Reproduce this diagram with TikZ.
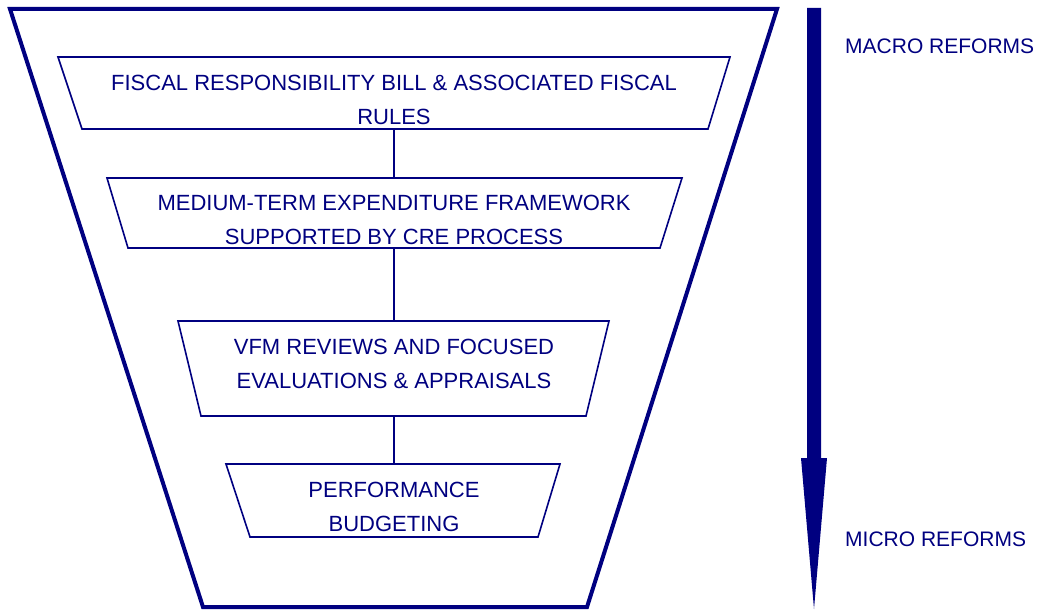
\documentclass[tikz,border=0pt]{standalone}
\usepackage{fontspec}
\setmainfont{Liberation Sans}
\definecolor{navy}{RGB}{0,0,128}
\begin{document}
\begin{tikzpicture}[x=1pt,y=-1pt,
  outer/.style={draw=navy,line width=4pt,line join=miter},
  inbox/.style={draw=navy,line width=1.6pt,fill=white},
  anchorbox/.style={inner sep=0pt,minimum width=10pt},
  lbl/.style={text=navy,font=\fontsize{22}{34}\selectfont,align=center,inner sep=0pt},
  side/.style={text=navy,font=\fontsize{21}{25}\selectfont,anchor=west,inner sep=0pt},
  conn/.style={draw=navy,line width=1.5pt}]
\useasboundingbox (0,0) rectangle (1039,610);
% outer funnel
\draw[outer] (10,9) -- (777,9) -- (587,607) -- (203,607) -- cycle;
% boxes
\draw[inbox] (58,57) -- (730,57) -- (708,129) -- (82,129) -- cycle;
\draw[inbox] (107,178) -- (682,178) -- (660,248) -- (128,248) -- cycle;
\draw[inbox] (178,321) -- (609,321) -- (586,416) -- (201,416) -- cycle;
\draw[inbox] (226,464) -- (560,464) -- (538,537) -- (250,537) -- cycle;
% anchor nodes spanning each box
\node[anchorbox,minimum height=72pt] (b1) at (394,93) {};
\node[anchorbox,minimum height=70pt] (b2) at (394,213) {};
\node[anchorbox,minimum height=95pt] (b3) at (394,368.5) {};
\node[anchorbox,minimum height=73pt] (b4) at (394,500.5) {};
% texts
\node[lbl] (t1) at (394,100) {FISCAL RESPONSIBILITY BILL \& ASSOCIATED FISCAL\\RULES};
\node[lbl] (t2) at (394,220) {MEDIUM-TERM EXPENDITURE FRAMEWORK\\SUPPORTED BY CRE PROCESS};
\node[lbl] (t3) at (394,364) {VFM REVIEWS AND FOCUSED\\EVALUATIONS \& APPRAISALS};
\node[lbl] (t4) at (394,507) {PERFORMANCE\\BUDGETING};
% connectors
\draw[conn] (b1.south) -- (b2.north);
\draw[conn] (b2.south) -- (b3.north);
\draw[conn] (b3.south) -- (b4.north);
% arrow
\fill[navy] (807,8) -- (821,8) -- (821,458) -- (827,458) -- (814,609) -- (801,458) -- (807,458) -- cycle;
\node[side] (macro) at (845,46) {MACRO REFORMS};
\node[side] (micro) at (845,539) {MICRO REFORMS};
\end{tikzpicture}
\end{document}
